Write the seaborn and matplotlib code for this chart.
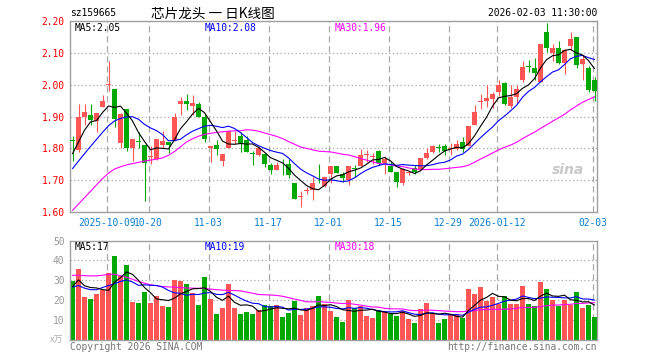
import numpy as np
import pandas as pd
import matplotlib
matplotlib.use("Agg")
import matplotlib.pyplot as plt
import seaborn as sns

# ---------------- data ----------------
date_ticks = [6, 13, 23, 33, 43, 53, 63, 71, 87]
date_labels = ["2025-10-09", "10-20", "11-03", "11-17", "12-01",
               "12-15", "12-29", "2026-01-12", "02-03"]

open_ = [1.826, 1.795, 1.898, 1.904, 1.885, 1.930, 1.998, 1.985, 1.816, 1.923,
         1.800, 1.823, 1.809, 1.774, 1.765, 1.810, 1.820, 1.825, 1.938, 1.950,
         1.932, 1.940, 1.900, 1.800, 1.810, 1.760, 1.800, 1.824, 1.838, 1.827,
         1.785, 1.780, 1.782, 1.748, 1.731, 1.742, 1.750, 1.690, 1.646, 1.667,
         1.668, 1.701, 1.682, 1.718, 1.745, 1.720, 1.700, 1.738, 1.743, 1.778,
         1.773, 1.793, 1.753, 1.746, 1.727, 1.691, 1.723, 1.738, 1.735, 1.769,
         1.790, 1.804, 1.806, 1.797, 1.797, 1.821, 1.808, 1.873, 1.946, 1.950,
         1.954, 1.976, 2.004, 1.934, 1.962, 2.015, 2.058, 2.051, 2.009, 2.166,
         2.101, 2.116, 2.067, 2.122, 2.150, 2.065, 2.051, 2.015]
high = [1.840, 1.940, 1.940, 1.938, 1.912, 1.967, 2.074, 1.985, 1.910, 1.925,
        1.828, 1.850, 1.810, 1.806, 1.830, 1.853, 1.820, 1.910, 1.962, 1.972,
        1.968, 1.945, 1.908, 1.806, 1.825, 1.781, 1.854, 1.854, 1.850, 1.840,
        1.792, 1.807, 1.786, 1.753, 1.758, 1.765, 1.767, 1.690, 1.666, 1.680,
        1.710, 1.752, 1.710, 1.745, 1.745, 1.727, 1.745, 1.748, 1.797, 1.795,
        1.786, 1.795, 1.775, 1.756, 1.727, 1.738, 1.730, 1.748, 1.769, 1.800,
        1.810, 1.815, 1.814, 1.816, 1.826, 1.835, 1.870, 1.936, 1.970, 2.000,
        1.978, 2.014, 2.009, 1.999, 1.998, 2.074, 2.077, 2.085, 2.129, 2.195,
        2.129, 2.137, 2.111, 2.166, 2.150, 2.092, 2.058, 2.025]
low = [1.760, 1.790, 1.872, 1.874, 1.851, 1.930, 1.980, 1.866, 1.800, 1.793,
       1.760, 1.800, 1.633, 1.752, 1.762, 1.800, 1.785, 1.823, 1.904, 1.920,
       1.905, 1.898, 1.820, 1.757, 1.778, 1.743, 1.800, 1.815, 1.790, 1.788,
       1.747, 1.775, 1.740, 1.720, 1.731, 1.715, 1.707, 1.640, 1.617, 1.655,
       1.638, 1.692, 1.680, 1.690, 1.723, 1.694, 1.685, 1.710, 1.743, 1.758,
       1.752, 1.748, 1.720, 1.725, 1.680, 1.685, 1.716, 1.720, 1.735, 1.767,
       1.785, 1.790, 1.779, 1.780, 1.794, 1.788, 1.806, 1.873, 1.925, 1.930,
       1.926, 1.965, 1.935, 1.926, 1.942, 2.007, 2.040, 2.015, 2.009, 2.103,
       2.074, 2.064, 2.035, 2.108, 2.053, 2.015, 1.976, 1.950]
close = [1.822, 1.900, 1.914, 1.888, 1.912, 1.949, 2.002, 1.893, 1.907, 1.800,
         1.828, 1.820, 1.753, 1.777, 1.828, 1.822, 1.810, 1.898, 1.950, 1.938,
         1.942, 1.900, 1.830, 1.806, 1.797, 1.781, 1.854, 1.826, 1.818, 1.788,
         1.783, 1.800, 1.750, 1.733, 1.748, 1.740, 1.717, 1.642, 1.649, 1.669,
         1.690, 1.699, 1.710, 1.745, 1.723, 1.707, 1.745, 1.736, 1.780, 1.781,
         1.776, 1.753, 1.766, 1.727, 1.693, 1.735, 1.725, 1.725, 1.769, 1.785,
         1.808, 1.802, 1.793, 1.800, 1.814, 1.797, 1.870, 1.915, 1.950, 1.957,
         1.970, 2.000, 1.940, 1.962, 1.986, 2.054, 2.055, 2.038, 2.129, 2.116,
         2.116, 2.069, 2.108, 2.145, 2.061, 2.082, 1.983, 1.980]
volume = [29.4, 35.7, 21.6, 20.6, 23.2, 25.2, 33.7, 42.3, 31.9, 37.8,
          19.1, 18.6, 24.2, 18.6, 22.1, 17.1, 16.6, 30.2, 29.4, 28.2,
          23.7, 17.6, 31.7, 20.6, 13.1, 16.1, 28.2, 16.1, 13.1, 14.1,
          13.1, 15.1, 17.6, 17.1, 17.6, 11.6, 13.6, 19.6, 12.6, 16.1,
          17.1, 22.1, 18.1, 14.6, 11.6, 9.1, 20.1, 16.1, 17.1, 12.1,
          11.1, 15.1, 14.1, 13.1, 12.1, 14.6, 10.6, 8.1, 15.6, 18.6,
          13.1, 8.6, 10.6, 13.1, 13.1, 11.1, 25.7, 23.2, 26.7, 19.6,
          21.6, 18.1, 22.1, 18.1, 18.1, 27.2, 18.1, 17.1, 29.2, 25.7,
          20.1, 17.1, 20.1, 17.6, 24.2, 16.1, 17.6, 11.6]

# moving-average values at the start of the window (history not shown)
ma5_head = [1.783, 1.820, 1.857, 1.883]
ma10_head = [1.736, 1.760, 1.783, 1.806, 1.828, 1.850, 1.871, 1.886, 1.894]
ma30_head = [1.605, 1.625, 1.645, 1.665, 1.685, 1.705, 1.722, 1.735, 1.742, 1.748,
             1.752, 1.756, 1.760, 1.763, 1.766, 1.770, 1.778, 1.790, 1.805, 1.820,
             1.830, 1.838, 1.844, 1.847, 1.850, 1.852, 1.854, 1.855, 1.855]
vma5_head = [26.8, 30.2, 27.2, 26.3]
vma10_head = [26.5, 27.3, 26.0, 25.2, 25.2, 26.3, 27.3, 28.2, 29.4]
vma30_head = [32.5, 32.5, 32.3, 32.2, 32.2, 32.5, 33.0, 33.0, 32.3, 31.5,
              30.5, 29.4, 28.5, 27.7, 27.2, 26.8, 26.6, 26.5, 26.3, 26.1,
              26.0, 25.9, 25.8, 25.5, 25.2, 25.0, 24.8, 24.8, 24.6]

price_ticks = [1.60, 1.70, 1.80, 1.90, 2.00, 2.10, 2.20]
vol_ticks = [10, 20, 30, 40, 50]


def moving_average(values, window, head):
    m = pd.Series(values, dtype=float).rolling(window).mean().to_numpy()
    m[:window - 1] = head
    return m


# ---------------- style ----------------
sns.set_theme(style="white")
MONO = ["DejaVu Sans Mono", "Noto Sans CJK SC"]
CJK = ["Noto Sans CJK SC", "DejaVu Sans"]
plt.rcParams["font.family"] = MONO

RED = "#ff5555"
GREEN = "#00a800"
GRID = "#a8a8a8"
SPINE = "#a0a0a0"
FS = 6.95
LW = 0.8

idx = np.arange(len(close))
o = np.array(open_)
c = np.array(close)
h = np.array(high)
l = np.array(low)
up = c >= o
colors = np.where(up, RED, GREEN)
direction = np.where(up, "up", "down")

fig = plt.figure(figsize=(6.6, 3.6), dpi=100)
ax = fig.add_axes([70 / 660, 1 - 212 / 360, 527 / 660, 191 / 360])
axv = fig.add_axes([70 / 660, 1 - 339.5 / 360, 527 / 660, 98.8 / 360])

xmin = -2.5 / 6
xmax = xmin + 527 / 6
grid_x = [t - 0.3 for t in date_ticks]

for a in (ax, axv):
    a.set_xlim(xmin, xmax)
    for s in a.spines.values():
        s.set_color(SPINE)
        s.set_linewidth(1.0)
    for gx in grid_x:
        a.axvline(gx, color=GRID, lw=0.9, ls=(0, (5, 3)), zorder=0)
    a.tick_params(length=0)

# ---------------- price panel ----------------
ax.set_ylim(1.60, 2.20)
for p in price_ticks[1:-1]:
    ax.axhline(p, color=GRID, lw=0.9, ls=(0, (1, 2)), zorder=0)

ax.vlines(idx, l, h, colors=colors, lw=0.8, zorder=2)
body_bottom = np.minimum(o, c)
body_h = np.maximum(np.abs(c - o), 0.0025)
ax.bar(idx, body_h, bottom=body_bottom, width=0.8, color=colors,
       linewidth=0, zorder=3)

ma5 = moving_average(close, 5, ma5_head)
ma10 = moving_average(close, 10, ma10_head)
ma30 = moving_average(close, 30, ma30_head)
sns.lineplot(x=idx, y=ma30, color="#ff00ff", lw=LW, ax=ax, zorder=4)
sns.lineplot(x=idx, y=ma10, color="#0000ff", lw=LW, ax=ax, zorder=4)
sns.lineplot(x=idx, y=ma5, color="black", lw=LW, ax=ax, zorder=5)

ax.set_yticks(price_ticks)
ax.set_yticklabels([f"{p:.2f}" for p in price_ticks], color="#ff0000",
                   fontsize=FS)
ax.tick_params(axis="y", pad=4)
ax.set_xticks(grid_x)
ax.set_xticklabels(date_labels, color="#0a7fd0", fontsize=FS)
ax.tick_params(axis="x", pad=4)
ax.set_xlabel("")
ax.set_ylabel("")

ax.text(5 / 527, 1 - 7 / 191, "MA5:2.05", transform=ax.transAxes,
        color="black", fontsize=FS, va="center", ha="left")
ax.text(135 / 527, 1 - 7 / 191, "MA10:2.08", transform=ax.transAxes,
        color="#0000ff", fontsize=FS, va="center", ha="left")
ax.text(265 / 527, 1 - 7 / 191, "MA30:1.96", transform=ax.transAxes,
        color="#ff00ff", fontsize=FS, va="center", ha="left")
ax.text(0.975, 0.22, "sina", transform=ax.transAxes, color="#c8c8c8",
        fontsize=10, fontstyle="italic", fontweight="bold",
        family="DejaVu Sans", ha="right", va="center", zorder=1)

# ---------------- volume panel ----------------
vdf = pd.DataFrame({"i": idx, "vol": volume, "dir": direction})
sns.barplot(data=vdf, x="i", y="vol", hue="dir",
            palette={"up": RED, "down": GREEN}, native_scale=True,
            dodge=False, width=0.83, saturation=1, errorbar=None,
            linewidth=0, legend=False, ax=axv, zorder=2)
axv.set_xlim(xmin, xmax)
axv.set_ylim(0, 50)
for v in vol_ticks[:-1]:
    axv.axhline(v, color=GRID, lw=0.9, ls=(0, (1, 2)), zorder=1)

vma5 = moving_average(volume, 5, vma5_head)
vma10 = moving_average(volume, 10, vma10_head)
vma30 = moving_average(volume, 30, vma30_head)
sns.lineplot(x=idx, y=vma30, color="#ff00ff", lw=LW, ax=axv, zorder=4)
sns.lineplot(x=idx, y=vma10, color="#0000ff", lw=LW, ax=axv, zorder=4)
sns.lineplot(x=idx, y=vma5, color="black", lw=LW, ax=axv, zorder=5)

axv.set_yticks(vol_ticks)
axv.set_yticklabels([str(v) for v in vol_ticks], color="#999999", fontsize=FS)
axv.tick_params(axis="y", pad=4)
axv.set_xticks([])
axv.set_xlabel("")
axv.set_ylabel("")

axv.text(5 / 527, 1 - 6 / 98.8, "MA5:17", transform=axv.transAxes,
         color="black", fontsize=FS, va="center", ha="left")
axv.text(135 / 527, 1 - 6 / 98.8, "MA10:19", transform=axv.transAxes,
         color="#0000ff", fontsize=FS, va="center", ha="left")
axv.text(265 / 527, 1 - 6 / 98.8, "MA30:18", transform=axv.transAxes,
         color="#ff00ff", fontsize=FS, va="center", ha="left")

# ---------------- figure texts ----------------
fig.text(70 / 660, 1 - 13.5 / 360, "sz159665", color="black", fontsize=FS,
         ha="left", va="center")
fig.text(213 / 660, 1 - 13.5 / 360, "芯片龙头 一 日K线图", color="black",
         fontsize=9.8, ha="center", va="center", family=CJK)
fig.text(597 / 660, 1 - 13.5 / 360, "2026-02-03 11:30:00", color="black",
         fontsize=FS, ha="right", va="center")
fig.text(57 / 660, 1 - 340.5 / 360, "x万", color="#b0b0b0", fontsize=6.5,
         ha="center", va="center", family=CJK)
fig.text(70 / 660, 1 - 346.5 / 360, "Copyright 2026 SINA.COM", color="#777777",
         fontsize=FS, ha="left", va="center")
fig.text(597 / 660, 1 - 346.5 / 360, "http://finance.sina.com.cn",
         color="#777777", fontsize=FS, ha="right", va="center")

fig.savefig("out.png", dpi=100, facecolor="white")
